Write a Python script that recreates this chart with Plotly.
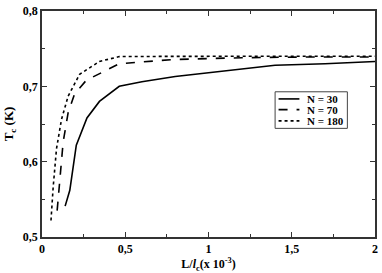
import plotly.graph_objects as go

# Data
x_n30 = [0.139, 0.167, 0.206, 0.27, 0.345, 0.445, 0.464, 0.6, 0.8, 1.0, 1.2, 1.4, 1.7, 2.0]
y_n30 = [0.541, 0.562, 0.622, 0.658, 0.680, 0.696, 0.700, 0.706, 0.713, 0.718, 0.723, 0.728, 0.730, 0.733]

x_n70 = [0.091, 0.107, 0.127, 0.157, 0.196, 0.266, 0.364, 0.464, 0.78, 1.2, 1.6, 2.0]
y_n70 = [0.535, 0.571, 0.626, 0.665, 0.690, 0.708, 0.719, 0.730, 0.7355, 0.738, 0.739, 0.739]

x_n180 = [0.054, 0.067, 0.087, 0.117, 0.157, 0.226, 0.345, 0.464, 0.8, 1.2, 1.6, 2.0]
y_n180 = [0.522, 0.566, 0.617, 0.656, 0.687, 0.716, 0.733, 0.7395, 0.7398, 0.7398, 0.740, 0.740]

series_names = ["N = 30", "N = 70", "N = 180"]
dash_styles = ["solid", "dash", "dot"]

x_tickvals = [0, 0.5, 1, 1.5, 2]
x_ticktext = ["0", "0,5", "1", "1,5", "2"]
y_tickvals = [0.5, 0.6, 0.7, 0.8]
y_ticktext = ["0,5", "0,6", "0,7", "0,8"]

FONT = "Liberation Serif, Times New Roman, Times, serif"

fig = go.Figure()
for xs, ys, name, dash in zip([x_n30, x_n70, x_n180], [y_n30, y_n70, y_n180], series_names, dash_styles):
    fig.add_trace(go.Scatter(x=xs, y=ys, mode="lines", name=name, showlegend=False,
                             line=dict(color="black", width=1.6, dash=dash)))

# Compact legend (box, line samples, labels) in paper coordinates
leg_box = dict(x0=0.700, x1=0.917, y0=0.4807, y1=0.6425)
leg_rows = [0.611, 0.5635, 0.5137]
fig.add_shape(type="rect", xref="paper", yref="paper", line=dict(color="#444", width=1),
              fillcolor="white", **leg_box)
for row_y, name, dash in zip(leg_rows, series_names, dash_styles):
    fig.add_shape(type="line", xref="paper", yref="paper", x0=0.7104, x1=0.773, y0=row_y, y1=row_y,
                  line=dict(color="black", width=1.6, dash=dash))
    fig.add_annotation(xref="paper", yref="paper", x=0.7917, y=row_y, text="<b>%s</b>" % name,
                       showarrow=False, xanchor="left", yanchor="middle", borderpad=0,
                       font=dict(family=FONT, size=11, color="black"))

axis_common = dict(
    showgrid=False, zeroline=False, showline=True, linecolor="#333", linewidth=1.5,
    mirror="ticks", ticks="inside", ticklen=5, tickwidth=1, tickcolor="#333",
    tickfont=dict(family=FONT, size=12, color="black"),
    ticklabeloverflow="allow",
)

fig.update_xaxes(range=[0, 2], tickvals=x_tickvals, ticktext=["<b>%s</b>" % t for t in x_ticktext],
                 minor=dict(ticks="inside", dtick=0.25, ticklen=3, tickcolor="#333"),
                 title=dict(text="<b>L/<i>l</i><sub>c</sub>(x 10<sup>-3</sup>)</b>",
                            font=dict(family=FONT, size=12, color="black"), standoff=4),
                 **axis_common)
fig.update_yaxes(range=[0.5, 0.8], tickvals=y_tickvals, ticktext=["<b>%s</b>" % t for t in y_ticktext],
                 minor=dict(ticks="inside", dtick=0.05, ticklen=3, tickcolor="#333"),
                 title=dict(text="<b>T<sub>c</sub> (K)</b>",
                            font=dict(family=FONT, size=13, color="black"), standoff=6),
                 **axis_common)

fig.update_layout(
    width=382, height=273,
    margin=dict(l=42, r=4, t=5, b=35),
    paper_bgcolor="white", plot_bgcolor="white",
    font=dict(family=FONT, color="black"),
    showlegend=False,
)

fig.write_html("out.html", config={"displayModeBar": False},
               post_script="document.body.style.margin='0';")
